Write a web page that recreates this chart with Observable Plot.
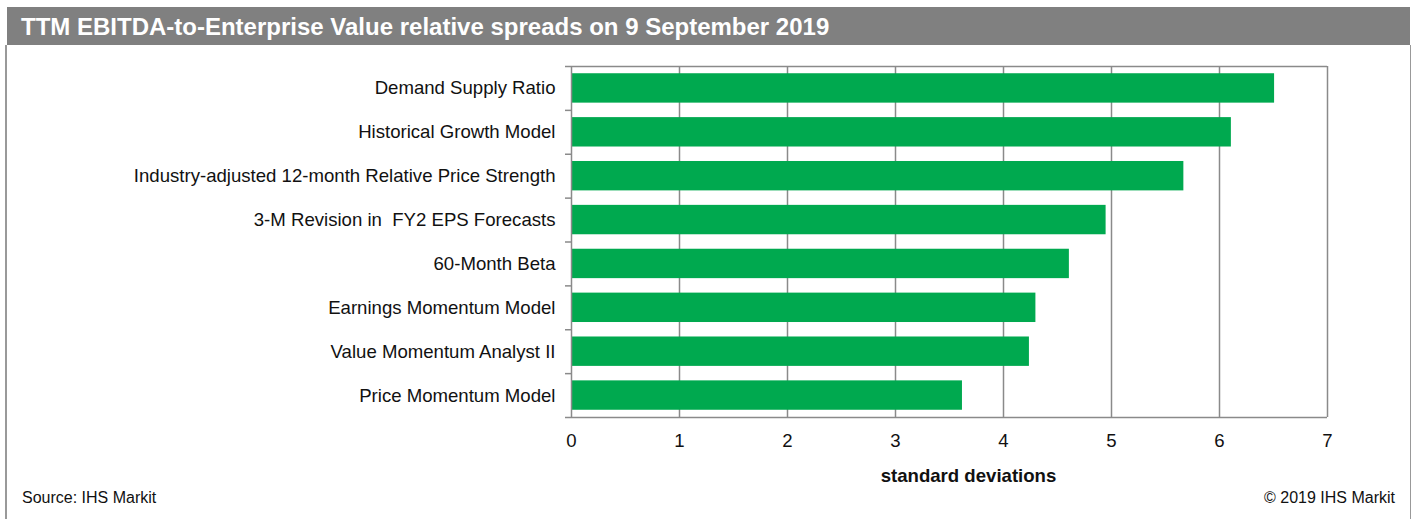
<!DOCTYPE html>
<html><head><meta charset="utf-8">
<script src="https://cdn.jsdelivr.net/npm/d3@7"></script>
<script src="https://cdn.jsdelivr.net/npm/@observablehq/plot@0.6"></script>
<style>
body{margin:0;background:#fff;font-family:"Liberation Sans",Arial,sans-serif;}
#wrap{position:relative;width:1416px;height:519px;overflow:hidden;background:#fff;}
#title{position:absolute;left:7px;top:7px;width:1403px;height:38px;background:#808080;color:#fff;font-weight:bold;font-size:24px;line-height:40px;padding-left:14px;box-sizing:border-box;white-space:nowrap;}
#lb{position:absolute;left:5px;top:45px;width:1.5px;height:474px;background:#999;z-index:2;}
#rb{position:absolute;left:1409.5px;top:45px;width:1.5px;height:474px;background:#999;z-index:2;}
#chart{position:absolute;left:0;top:45px;z-index:1;}
#chart svg{display:block;}
.foot{position:absolute;top:489px;font-size:16px;color:#111;white-space:nowrap;z-index:2;}
#src{left:22px;}
#copy{right:21px;}
</style>
</head><body>
<div id="wrap">
  <div id="title">TTM EBITDA-to-Enterprise Value relative spreads on 9 September 2019</div>
  <div id="chart"></div>
  <div id="lb"></div><div id="rb"></div>
  <div class="foot" id="src">Source: IHS Markit</div>
  <div class="foot" id="copy">© 2019 IHS Markit</div>
</div>
<script>
const categories = [
  "Demand Supply Ratio",
  "Historical Growth Model",
  "Industry-adjusted 12-month Relative Price Strength",
  "3-M Revision in  FY2 EPS Forecasts",
  "60-Month Beta",
  "Earnings Momentum Model",
  "Value Momentum Analyst II",
  "Price Momentum Model"
];
const values = [6.51, 6.11, 5.67, 4.95, 4.61, 4.30, 4.24, 3.62];
const xTicks = [0, 1, 2, 3, 4, 5, 6, 7];
const xLabel = "standard deviations";

const data = categories.map((c, i) => ({category: c, value: values[i]}));
const W = 1416, H = 474, mT = 21, mB = 102, mL = 571, mR = 89;
const step = (H - mT - mB) / categories.length;
const grey = "#8a8a8a";

const chart = Plot.plot({
  width: W, height: H,
  marginTop: mT, marginBottom: mB, marginLeft: mL, marginRight: mR,
  style: {fontFamily: '"Liberation Sans", Arial, sans-serif', fontSize: "18.6px", color: "#111", background: "#fff"},
  x: {domain: [0, 7], ticks: xTicks, label: null},
  y: {domain: categories, paddingInner: 0.33, paddingOuter: 0.165, round: false, label: null},
  marks: [
    Plot.ruleX(xTicks.filter(d => d > 0), {stroke: grey, strokeWidth: 1.5}),
    Plot.barX(data, {x: "value", y: "category", fill: "#00a94f"}),
    Plot.ruleX([0], {stroke: grey, strokeWidth: 1.5}),
    Plot.ruleY(categories, {y: d => d, dy: -step / 2, x1: 0, x2: 0, insetLeft: -6, stroke: grey, strokeWidth: 1.5}),
    Plot.ruleY([categories[0]], {y: d => d, dy: -step / 2, x1: 0, x2: 7, stroke: grey, strokeWidth: 1.5}),
    Plot.ruleY([categories[categories.length - 1]], {y: d => d, dy: step / 2, x1: 0, x2: 7, insetLeft: -6, stroke: grey, strokeWidth: 1.5}),
    Plot.axisX({ticks: xTicks, tickSize: 0, tickPadding: 16, label: null, tickFormat: d => String(d)}),
    Plot.axisY({tickSize: 0, tickPadding: 16, label: null}),
    Plot.text([xLabel], {frameAnchor: "bottom", dx: 19, dy: 64, fontWeight: "bold", fontSize: 18.6, fill: "#111"})
  ]
});
document.getElementById("chart").appendChild(chart);
</script>
</body></html>
